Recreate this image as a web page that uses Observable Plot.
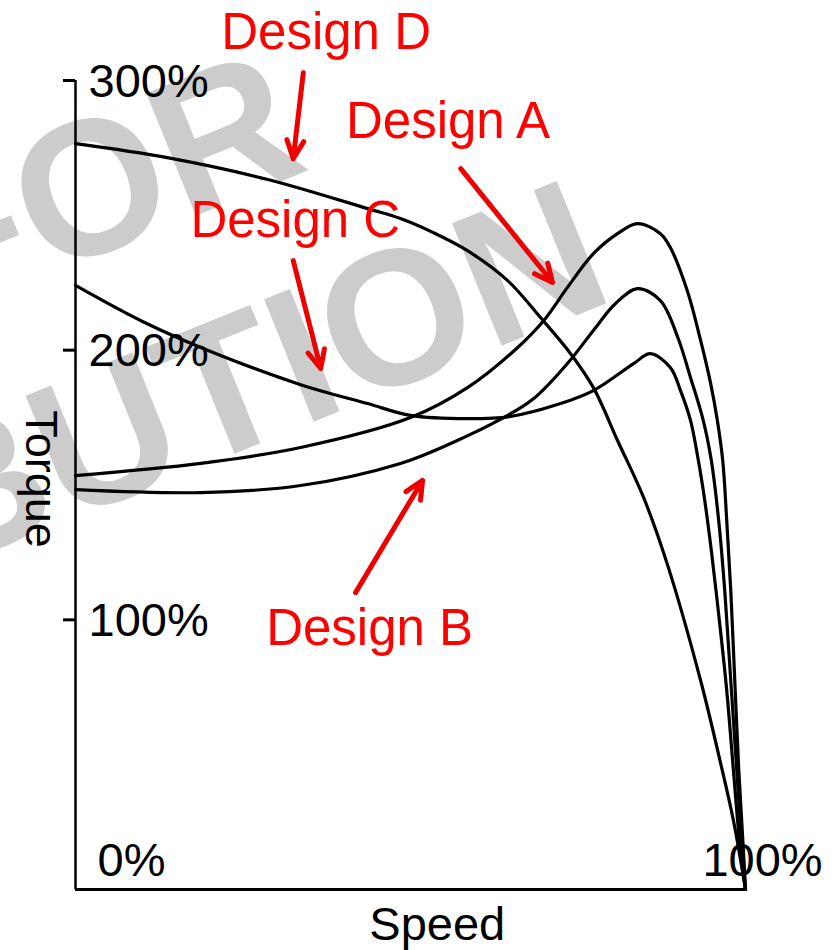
<!DOCTYPE html>
<html>
<head>
<meta charset="utf-8">
<script src="https://cdn.jsdelivr.net/npm/d3@7"></script>
<script src="https://cdn.jsdelivr.net/npm/@observablehq/plot@0.6"></script>
<style>
  html, body { margin: 0; padding: 0; background: #ffffff; }
  #chart svg { display: block; }
</style>
</head>
<body>
<div id="chart"></div>
<script>
// ---- Curve data (speed %, torque %) ----
const speedA  = [0, 18.7, 33.6, 50.0, 58.5, 66.0, 69.9, 73.4, 77.3, 80.9, 83.9, 87.3, 88.8, 91.3, 93.3, 94.8, 95.8, 96.6, 97.2, 97.8, 98.4, 99.0, 99.6, 100];
const torqueA = [153.5, 158.0, 163.9, 175.0, 186.1, 201.0, 211.0, 223.2, 235.8, 243.2, 246.9, 243.2, 238.0, 222.1, 203.6, 187.6, 173.9, 159.1, 136.8, 110.9, 77.5, 44.1, 18.2, 0];

const speedB  = [0, 18.7, 33.6, 48.5, 56.0, 63.4, 68.4, 73.4, 77.3, 80.6, 83.9, 87.3, 89.9, 91.8, 93.7, 94.9, 96.0, 96.9, 97.8, 98.7, 99.4, 100];
const torqueB = [148.3, 147.2, 149.8, 158.0, 165.4, 174.3, 182.1, 195.0, 207.3, 217.3, 222.8, 218.4, 204.7, 189.8, 173.9, 159.1, 136.8, 110.9, 77.5, 44.1, 18.2, 0];

const speedC  = [0, 9.7, 18.7, 33.6, 43.6, 50.0, 58.5, 64.9, 72.4, 77.3, 83.3, 85.8, 88.8, 90.3, 91.8, 92.7, 93.7, 94.9, 96.1, 97.2, 98.2, 99.1, 100];
const torqueC = [224.0, 211.0, 201.0, 187.2, 180.2, 175.8, 174.6, 175.4, 180.2, 185.0, 195.0, 198.7, 193.5, 185.0, 173.9, 162.8, 148.0, 125.7, 99.7, 73.8, 44.1, 18.2, 0];

const speedD  = [0, 13.7, 28.7, 43.6, 48.5, 53.4, 58.5, 64.5, 69.4, 73.9, 77.3, 80.9, 84.8, 88.4, 93.3, 96.3, 98.2, 100];
const torqueD = [276.6, 271.4, 263.3, 252.5, 248.8, 243.6, 236.9, 225.8, 212.1, 198.7, 186.1, 166.5, 145.3, 120.1, 77.5, 46.7, 25.6, 0];

// ---- Axis tick values ----
const torqueTicks = [100, 200, 300];
const speedStart = [0];
const speedEnd = [100];

// ---- Annotations (in data units) ----
const labelNames  = ["Design D", "Design A", "Design C", "Design B"];
const labelSpeed  = [37.4, 55.6, 32.8, 43.9];
const labelTorque = [311.8, 278.5, 241.8, 90.5];

const arrowFromSpeed  = [34.0, 57.5, 32.5, 41.8];
const arrowFromTorque = [302.9, 267.3, 233.2, 110.1];
const arrowToSpeed    = [32.5, 71.2, 36.6, 51.8];
const arrowToTorque   = [271.0, 225.1, 193.2, 151.7];

const watermarkLines  = ["NOT FOR", "DISTRIBUTION"];
const watermarkSpeed  = [35.4, 81.0];
const watermarkTorque = [267.3, 219.1];

// ---- Build tables ----
const series = [
  ["Design A", speedA, torqueA],
  ["Design B", speedB, torqueB],
  ["Design C", speedC, torqueC],
  ["Design D", speedD, torqueD]
];
const rows = series.flatMap(([design, xs, ys]) => xs.map((s, i) => ({design, speed: s, torque: ys[i]})));
const labels = labelNames.map((t, i) => ({text: t, speed: labelSpeed[i], torque: labelTorque[i]}));
const arrows = arrowFromSpeed.map((s, i) => ({x1: s, y1: arrowFromTorque[i], x2: arrowToSpeed[i], y2: arrowToTorque[i]}));
const watermark = watermarkLines.map((t, i) => ({text: t, speed: watermarkSpeed[i], torque: watermarkTorque[i]}));

const font = "'Liberation Sans', Arial, Helvetica, sans-serif";

const chart = Plot.plot({
  width: 832,
  height: 950,
  marginLeft: 75,
  marginRight: 87,
  marginTop: 80,
  marginBottom: 61,
  x: {domain: [0, 100], axis: null},
  y: {domain: [0, 300], axis: null},
  style: {fontFamily: font, background: "#ffffff", color: "#000000"},
  marks: [
    // watermark
    Plot.text(watermark, {
      x: "speed", y: "torque", text: "text",
      rotate: -22, textAnchor: "end", lineAnchor: "bottom",
      fontSize: 192, fontWeight: "bold", fill: "#cccccc"
    }),
    // axes
    Plot.ruleX([0], {y1: 0, y2: 300, stroke: "#000", strokeWidth: 2.5}),
    Plot.ruleY([0], {x1: 0, x2: 100, stroke: "#000", strokeWidth: 3}),
    Plot.axisY({ticks: torqueTicks, tickSize: 12, tickFormat: () => "", strokeWidth: 3, label: null}),
    // tick labels inside the frame
    Plot.text(torqueTicks, {
      x: 0, y: d => d, text: d => `${d}%`,
      dx: 13, dy: 1, textAnchor: "start", lineAnchor: "middle",
      fontSize: 47, fill: "#000"
    }),
    Plot.text(speedStart, {
      x: d => d, y: 0, text: d => `${d}%`,
      dx: 22, dy: -14, textAnchor: "start", lineAnchor: "bottom",
      fontSize: 47, fill: "#000"
    }),
    Plot.text(speedEnd, {
      x: d => d, y: 0, text: d => `${d}%`,
      dx: 17, dy: -14, textAnchor: "middle", lineAnchor: "bottom",
      fontSize: 47, fill: "#000"
    }),
    // curves
    Plot.line(rows, {
      x: "speed", y: "torque", z: "design",
      stroke: "#000", strokeWidth: 3.2, curve: "catmull-rom"
    }),
    // axis titles
    Plot.text(["Speed"], {x: 54.0, y: 0, text: d => d, dy: 50, lineAnchor: "bottom", textAnchor: "middle", fontSize: 47, fill: "#000"}),
    Plot.text(["Torque"], {x: -5.2, y: 152.2, text: d => d, rotate: 90, lineAnchor: "middle", textAnchor: "middle", fontSize: 45, fill: "#000"}),
    // annotations
    Plot.arrow(arrows, {
      x1: "x1", y1: "y1", x2: "x2", y2: "y2",
      stroke: "#ee0000", strokeWidth: 5, headLength: 6, headAngle: 50
    }),
    Plot.text(labels, {
      x: "speed", y: "torque", text: "text",
      textAnchor: "middle", lineAnchor: "bottom",
      fontSize: 51, fill: "#ff0000"
    })
  ]
});

document.getElementById("chart").appendChild(chart);
</script>
</body>
</html>
